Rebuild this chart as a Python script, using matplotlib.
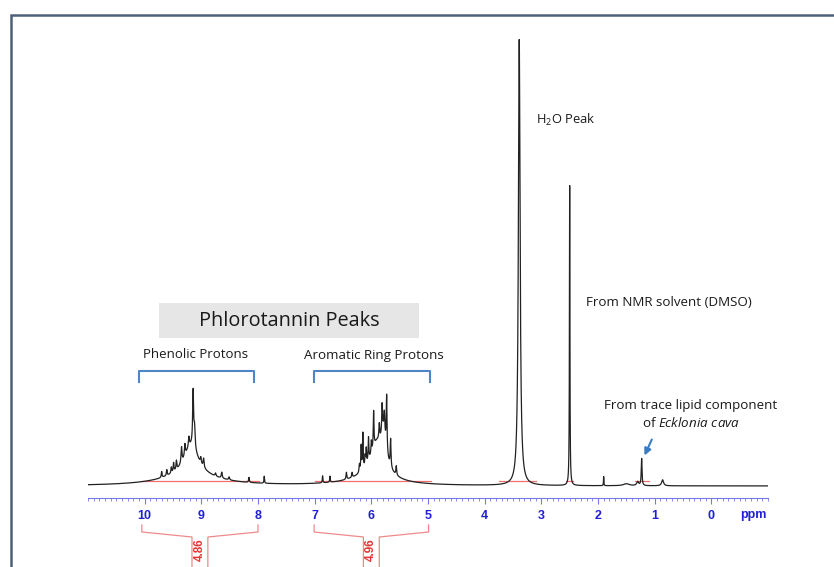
# 1H NMR spectrum of a phlorotannin extract (Ecklonia cava) in DMSO-d6

import numpy as np
import matplotlib.pyplot as plt
from matplotlib.patches import Rectangle
from matplotlib.ticker import MultipleLocator

plt.rcParams['font.family'] = ['Open Sans', 'DejaVu Sans']
plt.rcParams['mathtext.fontset'] = 'custom'
plt.rcParams['mathtext.rm'] = 'Open Sans'
plt.rcParams['mathtext.it'] = 'Open Sans:italic'

# Peak lists (shift in ppm, height, half width in ppm)
phenolic_ppm = [9.145, 9.12, 9.22, 9.29, 9.35, 9.44, 9.49, 9.53, 9.61, 9.70,
                9.01, 8.96, 8.75, 8.64, 8.51, 8.16, 7.89]
phenolic_height = [55, 20, 10, 12, 16, 9, 9, 6, 6, 6,
                   6, 9, 3, 6, 3, 5, 7]
phenolic_width = [0.010, 0.012, 0.010, 0.010, 0.010, 0.008, 0.008, 0.008, 0.008, 0.008,
                  0.010, 0.010, 0.010, 0.010, 0.010, 0.008, 0.006]

aromatic_ppm = [5.73, 5.81, 5.96, 5.77, 5.86, 5.66, 6.15, 6.05, 6.09, 6.18,
                6.21, 6.34, 6.44, 6.73, 6.86, 5.56, 6.00, 6.11]
aromatic_height = [55, 28, 36, 18, 15, 28, 36, 23, 16, 25,
                   8, 5, 7, 6, 7, 9, 12, 10]
aromatic_width = [0.008, 0.008, 0.007, 0.008, 0.008, 0.008, 0.007, 0.007, 0.007, 0.007,
                  0.008, 0.008, 0.008, 0.006, 0.006, 0.008, 0.007, 0.007]

# broad envelopes under the two phlorotannin clusters
hump_ppm = [9.18, 9.2, 5.9, 6.0, 5.78]
hump_height = [30, 10, 35, 6, 30]
hump_width = [0.15, 0.6, 0.15, 0.5, 0.05]

# solvent, water and lipid signals
other_ppm = [3.39, 2.50, 1.90, 1.23, 1.30, 0.86, 1.50]
other_height = [446, 300, 9, 27, 4, 6, 2]
other_width = [0.018, 0.005, 0.004, 0.008, 0.02, 0.02, 0.06]

integral_from = [10.05, 7.01]
integral_to = [8.0, 4.99]
integral_value = ['4.86', '4.96']

ppm_ticks = [10, 9, 8, 7, 6, 5, 4, 3, 2, 1, 0]


def lorentz(x, c, h, w):
    return h / (1 + ((x - c) / w) ** 2)


ppm = np.linspace(11.0, -1.0, 24001)
spectrum = np.zeros_like(ppm)
for plist, hlist, wlist in [(phenolic_ppm, phenolic_height, phenolic_width),
                            (aromatic_ppm, aromatic_height, aromatic_width),
                            (hump_ppm, hump_height, hump_width),
                            (other_ppm, other_height, other_width)]:
    for c, h, w in zip(plist, hlist, wlist):
        spectrum += lorentz(ppm, c, h, w)

fig = plt.figure(figsize=(8.34, 5.67), dpi=100)
ax = fig.add_axes([88 / 834, 69 / 567, 680 / 834, 468 / 567])

ax.plot(ppm, spectrum, color='#222222', lw=0.9)

# integration baselines
for a, b in [(10.05, 7.98), (7.0, 4.95), (3.75, 3.1), (2.56, 2.44), (1.35, 1.1)]:
    ax.plot([a, b], [5, 5], color='#f07070', lw=0.9, zorder=1)

ax.set_xlim(11.0, -1.0)
ax.set_ylim(-12, 456)
for s in ['top', 'left', 'right']:
    ax.spines[s].set_visible(False)
ax.spines['bottom'].set_color('#7878e8')
ax.set_yticks([])
ax.set_xticks(ppm_ticks)
ax.xaxis.set_minor_locator(MultipleLocator(0.1))
ax.tick_params(axis='x', which='major', direction='out', length=4, width=0.8,
               color='#7878e8', labelcolor='#1f1fd6', labelsize=9, pad=4.5)
ax.tick_params(axis='x', which='minor', direction='out', length=2, width=0.6, color='#7878e8')
for lab in ax.get_xticklabels():
    lab.set_fontweight('bold')
    lab.set_family(['Liberation Sans', 'DejaVu Sans'])
ax.text(-0.74, -29, 'ppm', color='#1f1fd6', fontsize=9, fontweight='bold',
        family=['Liberation Sans', 'DejaVu Sans'], ha='center', va='center')

# integral brackets
red = '#f08a8a'
for a, b, v in zip(integral_from, integral_to, integral_value):
    mid = (a + b) / 2
    ax.plot([a, a, mid + 0.14, mid + 0.14], [-39, -46, -51, -90], color=red, lw=0.9, clip_on=False)
    ax.plot([b, b, mid - 0.14, mid - 0.14], [-39, -46, -51, -90], color=red, lw=0.9, clip_on=False)
    ax.text(mid, -64, v, color='#e83434', fontsize=8.5, fontweight='bold', rotation=90,
            ha='center', va='center', family=['Liberation Sans', 'DejaVu Sans'])

# annotation boxes and labels
ax.add_patch(Rectangle((5.150, 148), 9.752 - 5.150, 35, facecolor='#e6e6e6',
                       edgecolor='none', clip_on=False))
ax.text(7.45, 165, 'Phlorotannin Peaks', fontsize=14.3, color='#1a1a1a', ha='center', va='center')
ax.text(9.10, 131, 'Phenolic Protons', fontsize=9.5, color='#1a1a1a', ha='center', va='center')
ax.text(5.95, 131, 'Aromatic Ring Protons', fontsize=9.6, color='#1a1a1a', ha='center', va='center')

blue = '#4f86c6'
for a, b in [(10.106, 8.071), (7.009, 4.956)]:
    ax.plot([a, a, b, b], [104, 115, 115, 104], color=blue, lw=1.5, clip_on=False)

ax.text(3.097, 366, 'H$_2$O Peak', fontsize=9.3, color='#1a1a1a', ha='left', va='center')
ax.text(2.204, 184, 'From NMR solvent (DMSO)', fontsize=9.6, color='#1a1a1a', ha='left', va='center')
ax.text(0.363, 80, 'From trace lipid component', fontsize=9.6, color='#1a1a1a', ha='center', va='center')
ax.text(0.363, 63, r'of $\it{Ecklonia\ cava}$', fontsize=9.6, color='#1a1a1a', ha='center', va='center')
ax.annotate('', xy=(1.20, 28), xytext=(1.03, 49),
            arrowprops=dict(arrowstyle='-|>', color='#3b7dc4', lw=1.5, mutation_scale=10))

# outer frame (runs off the right and bottom edges)
fig.patches.append(Rectangle((11 / 834, -0.2), 1.2, 1.2 - 15 / 567, transform=fig.transFigure,
                             fill=False, edgecolor='#4d6178', lw=1.8))

fig.savefig('out.png', dpi=100)
